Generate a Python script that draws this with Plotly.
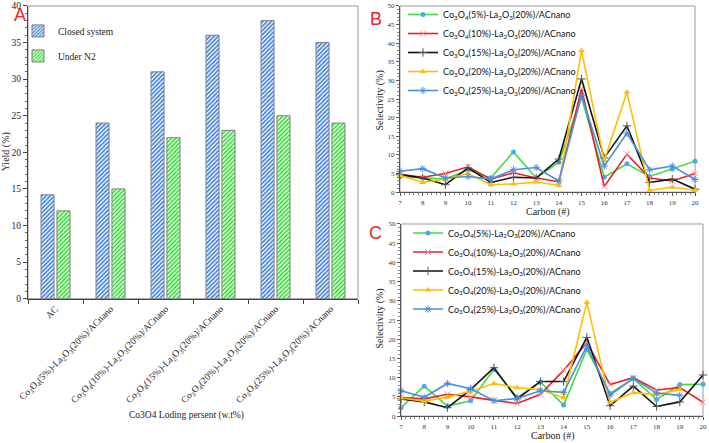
import plotly.graph_objects as go

W, H = 709, 443

# ---------------- data ----------------
bar_categories = [
    "AC",
    "Co<sub>3</sub>O<sub>4</sub>(5%)-La<sub>2</sub>O<sub>3</sub>(20%)/ACnano",
    "Co<sub>3</sub>O<sub>4</sub>(10%)-La<sub>2</sub>O<sub>3</sub>(20%)/ACnano",
    "Co<sub>3</sub>O<sub>4</sub>(15%)-La<sub>2</sub>O<sub>3</sub>(20%)/ACnano",
    "Co<sub>3</sub>O<sub>4</sub>(20%)-La<sub>2</sub>O<sub>3</sub>(20%)/ACnano",
    "Co<sub>3</sub>O<sub>4</sub>(25%)-La<sub>2</sub>O<sub>3</sub>(20%)/ACnano",
]
closed_system = [14.2, 24, 31, 36, 38, 35]
under_n2 = [12, 15, 22, 23, 25, 24]

carbon = [7, 8, 9, 10, 11, 12, 13, 14, 15, 16, 17, 18, 19, 20]

series_names = [
    "Co<sub>3</sub>O<sub>4</sub>(5%)-La<sub>2</sub>O<sub>3</sub>(20%)/ACnano",
    "Co<sub>3</sub>O<sub>4</sub>(10%)-La<sub>2</sub>O<sub>3</sub>(20%)/ACnano",
    "Co<sub>3</sub>O<sub>4</sub>(15%)-La<sub>2</sub>O<sub>3</sub>(20%)/ACnano",
    "Co<sub>3</sub>O<sub>4</sub>(20%)-La<sub>2</sub>O<sub>3</sub>(20%)/ACnano",
    "Co<sub>3</sub>O<sub>4</sub>(25%)-La<sub>2</sub>O<sub>3</sub>(20%)/ACnano",
]

# Panel B (closed system)
b_co5 = [4.2, 3.8, 3.5, 6.0, 3.8, 10.8, 3.8, 8.0, 25.5, 4.0, 7.6, 4.2, 6.2, 8.3]
b_co10 = [4.8, 4.0, 5.0, 6.8, 3.5, 5.2, 3.8, 2.8, 27.8, 1.5, 10.2, 3.8, 3.0, 5.0]
b_co15 = [4.7, 3.8, 2.0, 6.5, 2.6, 4.0, 3.8, 8.9, 30.4, 9.2, 17.8, 2.6, 3.5, 0.8]
b_co20 = [4.5, 2.6, 3.5, 5.0, 2.0, 2.2, 2.7, 1.8, 38.0, 8.5, 26.8, 0.5, 1.3, 0.5]
b_co25 = [5.6, 6.3, 3.8, 4.2, 3.5, 6.0, 6.6, 3.0, 25.9, 7.0, 15.8, 6.0, 7.0, 3.4]

# Panel C (under N2)
c_co5 = [2.2, 7.8, 2.6, 4.0, 12.2, 4.8, 8.9, 2.9, 17.4, 5.9, 9.8, 4.3, 8.2, 8.3]
c_co10 = [4.8, 4.5, 5.7, 5.0, 4.1, 3.3, 5.7, 11.9, 19.1, 8.2, 10.0, 6.8, 7.4, 3.6]
c_co15 = [4.5, 3.7, 2.2, 6.9, 12.6, 4.5, 9.0, 9.0, 20.5, 2.7, 7.8, 2.5, 3.7, 10.7]
c_co20 = [4.7, 3.9, 4.9, 6.5, 8.5, 7.4, 6.9, 4.8, 29.6, 3.6, 6.1, 5.6, 6.9, None]
c_co25 = [6.6, 4.9, 8.5, 7.1, 4.0, 4.6, 6.6, 6.2, 18.2, 5.5, 9.8, 6.0, 5.4, None]

# ---------------- styles ----------------
SERIF = "Liberation Serif"
SANS = "Lato"
line_colors = ["#3ddc3d", "#e8202a", "#111111", "#ffbf00", "#4a8fe0"]
marker_styles = [
    dict(symbol="circle", size=5, color="#4da6f0"),
    dict(symbol="x-thin-open", size=6, color="#ff8a8a", line=dict(width=1, color="#ff8a8a")),
    dict(symbol="cross-thin-open", size=6, color="#555555", line=dict(width=1, color="#555555")),
    dict(symbol="triangle-up", size=6, color="#ffbf00"),
    dict(symbol="asterisk-open", size=6, color="#4a8fe0", line=dict(width=1, color="#4a8fe0")),
]


def px_x(p):
    return p / W


def px_y(p):
    return 1 - p / H


fig = go.Figure()

# ---------------- Panel A: bars ----------------
fig.add_trace(go.Bar(
    x=bar_categories, y=closed_system, name="Closed system",
    marker=dict(color="white", line=dict(color="#7f7f7f", width=1),
                pattern=dict(shape="/", fgcolor="#3f7fe0", bgcolor="white",
                             size=3, solidity=0.55, fillmode="replace")),
    xaxis="x", yaxis="y", legend="legend", legendgroup="a1",
))
fig.add_trace(go.Bar(
    x=bar_categories, y=under_n2, name="Under N2",
    marker=dict(color="white", line=dict(color="#7f7f7f", width=1),
                pattern=dict(shape="/", fgcolor="#2fe02f", bgcolor="white",
                             size=3, solidity=0.55, fillmode="replace")),
    xaxis="x", yaxis="y", legend="legend", legendgroup="a2",
))

# ---------------- Panels B and C: lines ----------------
for ys, ax, lg in [((b_co5, b_co10, b_co15, b_co20, b_co25), "2", "legend2"),
                   ((c_co5, c_co10, c_co15, c_co20, c_co25), "3", "legend3")]:
    for i, vals in enumerate(ys):
        fig.add_trace(go.Scatter(
            x=carbon, y=vals, name=series_names[i], mode="lines+markers",
            line=dict(color=line_colors[i], width=1.6),
            marker=marker_styles[i], cliponaxis=False,
            xaxis="x" + ax, yaxis="y" + ax, legend=lg,
        ))

# ---------------- axes ----------------
axis_font_a = dict(family=SERIF, size=9.5, color="#222222")
axis_font_bc = dict(family=SERIF, size=7, color="#333333")

fig.update_layout(
    width=W, height=H, autosize=False,
    margin=dict(l=0, r=0, t=0, b=0),
    paper_bgcolor="white", plot_bgcolor="white",
    barmode="group", bargap=0.42, bargroupgap=0.18,
    font=dict(family=SERIF, color="#222222"),
    xaxis=dict(domain=[px_x(28), px_x(358)], anchor="y", automargin=False,
               tickangle=-45, tickfont=axis_font_a, showgrid=False, zeroline=False,
               showline=True, linecolor="#444444", linewidth=1,
               ticks="outside", ticklen=4, tickcolor="#444444", tickson="boundaries"),
    yaxis=dict(domain=[px_y(298), px_y(4)], anchor="x", automargin=False,
               range=[0, 40], dtick=5, tickfont=axis_font_a, showgrid=False, zeroline=False,
               showline=True, linecolor="#444444", linewidth=1,
               ticks="outside", ticklen=4, tickcolor="#444444",
               minor=dict(dtick=1, ticks="outside", ticklen=2, tickcolor="#666666")),
    xaxis2=dict(domain=[px_x(400), px_x(695)], anchor="y2", automargin=False,
                range=[7, 20], dtick=1, tickfont=axis_font_bc, showgrid=False, zeroline=False,
                showline=True, linecolor="#555555", linewidth=1,
                ticks="outside", ticklen=3, tickcolor="#555555",
                minor=dict(dtick=0.2, ticks="outside", ticklen=2, tickcolor="#888888")),
    yaxis2=dict(domain=[px_y(191), px_y(4)], anchor="x2", automargin=False,
                range=[0, 50], dtick=5, tickfont=axis_font_bc, showgrid=False, zeroline=False,
                showline=True, linecolor="#555555", linewidth=1,
                ticks="outside", ticklen=3, tickcolor="#555555",
                minor=dict(dtick=1, ticks="outside", ticklen=2, tickcolor="#888888")),
    xaxis3=dict(domain=[px_x(401), px_x(703)], anchor="y3", automargin=False,
                range=[7, 20], dtick=1, tickfont=axis_font_bc, showgrid=False, zeroline=False,
                showline=True, linecolor="#555555", linewidth=1,
                ticks="outside", ticklen=3, tickcolor="#555555",
                minor=dict(dtick=0.2, ticks="outside", ticklen=2, tickcolor="#888888")),
    yaxis3=dict(domain=[px_y(416), px_y(223)], anchor="x3", automargin=False,
                range=[0, 50], dtick=5, tickfont=axis_font_bc, showgrid=False, zeroline=False,
                showline=True, linecolor="#555555", linewidth=1,
                ticks="outside", ticklen=3, tickcolor="#555555",
                minor=dict(dtick=1, ticks="outside", ticklen=2, tickcolor="#888888")),
    legend=dict(x=px_x(18), y=px_y(14.5), xanchor="left", yanchor="top",
                bgcolor="rgba(0,0,0,0)", borderwidth=0, tracegroupgap=6,
                font=dict(family=SERIF, size=9.5, color="#222222")),
    legend2=dict(x=px_x(403), y=px_y(-2), xanchor="left", yanchor="top",
                 bgcolor="rgba(0,0,0,0)", borderwidth=0,
                 font=dict(family=SANS, size=9, color="#111111")),
    legend3=dict(x=px_x(408), y=px_y(217.5), xanchor="left", yanchor="top",
                 bgcolor="rgba(0,0,0,0)", borderwidth=0,
                 font=dict(family=SANS, size=9, color="#111111")),
    showlegend=True,
)

# plot-area frames (Excel style)
for xr, yr in [("x", "y"), ("x2", "y2"), ("x3", "y3")]:
    fig.add_shape(type="rect", xref=xr + " domain", yref=yr + " domain",
                  x0=0, x1=1, y0=0, y1=1, line=dict(color="#9a9a9a", width=1),
                  layer="below")

# text labels
def ann(text, x, y, size, angle=0, family=SERIF, color="#222222"):
    fig.add_annotation(text=text, x=px_x(x), y=px_y(y), xref="paper", yref="paper",
                       showarrow=False, textangle=angle, xanchor="center", yanchor="middle",
                       font=dict(family=family, size=size, color=color))

ann("Yield (%)", 6, 151, 10, angle=-90)
ann("Co3O4 Loding persent (w.t%)", 186, 415, 9.5)
ann("Selectivity (%)", 380, 99, 10, angle=-90)
ann("Carbon (#)", 548, 211, 10)
ann("Selectivity (%)", 380, 318, 10, angle=-90)
ann("Carbon (#)", 553, 436, 10)
ann("A", 20, 13, 18, family="Liberation Sans", color="#e8281e")
ann("B", 376, 17, 18, family="Liberation Sans", color="#e8281e")
ann("C", 376, 232, 18, family="Liberation Sans", color="#e8281e")

fig.write_html(
    "out.html",
    config={"displayModeBar": False},
    post_script="document.body.style.margin='0px';document.body.style.overflow='hidden';",
)
